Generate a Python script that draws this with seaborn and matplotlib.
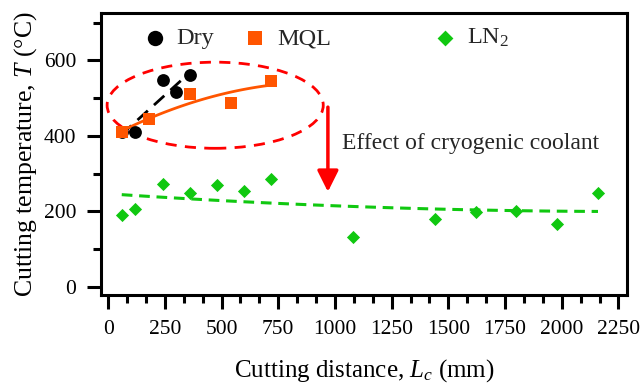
import numpy as np
import matplotlib
matplotlib.use('Agg')
import matplotlib.pyplot as plt
from matplotlib.patches import Ellipse
from matplotlib.ticker import MultipleLocator
import seaborn as sns

dry_x = [60, 120, 240, 300, 360]
dry_y = [410, 411, 548, 516, 560]
mql_x = [60, 180, 360, 540, 720]
mql_y = [409, 444, 511, 486, 545]
ln2_x = [60, 120, 240, 360, 480, 600, 720, 1080, 1440, 1620, 1800, 1980, 2160]
ln2_y = [190, 207, 272, 249, 269, 255, 286, 133, 181, 198, 202, 168, 250]

c_dry = 'black'
c_mql = '#FF5500'
c_ln2 = '#10C810'

sns.set_style('ticks')
plt.rcParams['font.family'] = ['Liberation Serif', 'DejaVu Serif']
plt.rcParams['mathtext.fontset'] = 'custom'
plt.rcParams['mathtext.rm'] = 'Liberation Serif'
plt.rcParams['mathtext.it'] = 'Liberation Serif:italic'

fig = plt.figure(figsize=(6.44, 3.84), dpi=100)
ax = fig.add_axes([0.157, 0.232, 0.817, 0.734])


def fit_curve(x, y, deg, x0, x1):
    p = np.polyfit(x, y, deg)
    xs = np.linspace(x0, x1, 100)
    return xs, np.polyval(p, xs)


# fitted trends
xs, ys = fit_curve(dry_x, dry_y, 1, 57, 362)
sns.lineplot(x=xs, y=ys, color=c_dry, lw=2, ax=ax, dashes=(5, 3), sort=False)
xs, ys = fit_curve(mql_x, mql_y, 2, 60, 720)
sns.lineplot(x=xs, y=ys, color=c_mql, lw=2, ax=ax, sort=False)
xs, ys = fit_curve(ln2_x, ln2_y, 2, 60, 2160)
sns.lineplot(x=xs, y=ys, color=c_ln2, lw=2.2, ax=ax, dashes=(3.5, 2.2), sort=False)

sns.scatterplot(x=dry_x, y=dry_y, color=c_dry, marker='o', s=85, linewidth=0, label='Dry', ax=ax, zorder=3)
sns.scatterplot(x=mql_x, y=mql_y, color=c_mql, marker='s', s=80, linewidth=0, label='MQL', ax=ax, zorder=4)
sns.scatterplot(x=ln2_x, y=ln2_y, color=c_ln2, marker='D', s=45, linewidth=0, label='LN$_2$', ax=ax, zorder=4)

# highlight + arrow
ax.add_patch(Ellipse((472, 481), 953, 228, fill=False, edgecolor='red', lw=2, ls=(0, (4, 3))))
ax.annotate('', xy=(969, 252), xytext=(969, 476),
            arrowprops=dict(arrowstyle='-|>,head_length=0.4,head_width=0.2', color='red',
                            lw=2.5, mutation_scale=32, shrinkA=0, shrinkB=0))
ax.text(1032, 381, 'Effect of cryogenic coolant', fontsize=17, ha='left', va='center')

ax.set_xlim(-31, 2289)
ax.set_ylim(-21, 725)
ax.xaxis.set_major_locator(MultipleLocator(250))
ax.xaxis.set_minor_locator(MultipleLocator(250 / 3))
ax.yaxis.set_major_locator(MultipleLocator(200))
ax.yaxis.set_minor_locator(MultipleLocator(100))
ax.tick_params(which='major', direction='out', length=10, width=2.2, labelsize=15.5, color='black', labelcolor='black')
ax.tick_params(which='minor', direction='out', length=5.5, width=2.2, color='black')
ax.tick_params(axis='y', which='major', pad=8)
ax.tick_params(axis='x', which='major', pad=8)
for sp in ax.spines.values():
    sp.set_visible(True)
    sp.set_linewidth(2.2)
    sp.set_color('black')

ax.set_xlabel('Cutting distance, $L_c$ (mm)', fontsize=18, color='black', labelpad=13)
ax.set_ylabel('Cutting temperature, $T$ (°C)', fontsize=18.5, color='black', labelpad=3)

handles, labels = ax.get_legend_handles_labels()
leg1 = ax.legend(handles[:2], labels[:2], loc='center', bbox_to_anchor=(0.258, 0.911), ncol=2,
                 frameon=False, fontsize=17.5, markerscale=1.2, handlelength=1, handletextpad=0.4,
                 columnspacing=1.2, borderpad=0)
ax.add_artist(leg1)
ax.legend(handles[2:], labels[2:], loc='center', bbox_to_anchor=(0.703, 0.911),
          frameon=False, fontsize=17.5, markerscale=1.2, handlelength=1, handletextpad=0.4, borderpad=0)

fig.savefig('out.png', dpi=100)
